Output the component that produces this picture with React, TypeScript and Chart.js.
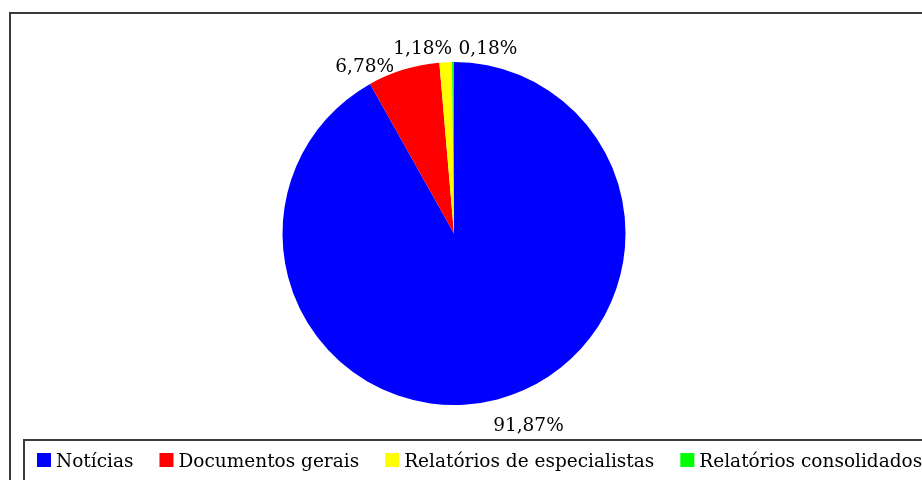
import React, { useEffect, useRef } from "react";
import { Chart, registerables } from "chart.js";

Chart.register(...registerables);

const categories = ["Notícias", "Documentos gerais", "Relatórios de especialistas", "Relatórios consolidados"];
const values = [91.87, 6.78, 1.18, 0.18];
const valueLabels = ["91,87%", "6,78%", "1,18%", "0,18%"];
const colors = ["#0000FF", "#FF0000", "#FFFF00", "#00FF00"];
const labelNudges = [
  [26, 7],
  [-33, 17],
  [-22, 7],
  [35, 7],
];

const FONT = '18.5px "DejaVu Serif"';

const framePlugin = {
  id: "frame",
  beforeDraw(chart: any) {
    const ctx = chart.ctx;
    ctx.save();
    ctx.fillStyle = "#ffffff";
    ctx.fillRect(0, 0, chart.width, chart.height);
    ctx.strokeStyle = "#3a3a3a";
    ctx.lineWidth = 2;
    ctx.strokeRect(10, 13, chart.width + 20, chart.height + 20);
    ctx.restore();
  },
  afterDraw(chart: any) {
    const ctx = chart.ctx;
    const meta = chart.getDatasetMeta(0);
    ctx.save();
    ctx.font = FONT;
    ctx.fillStyle = "#000000";
    ctx.textAlign = "center";
    ctx.textBaseline = "middle";
    meta.data.forEach((arc: any, i: number) => {
      const p = arc.getProps(["x", "y", "startAngle", "endAngle", "outerRadius"], true);
      const mid = (p.startAngle + p.endAngle) / 2;
      const R = p.outerRadius + 20;
      const x = p.x + Math.cos(mid) * R + labelNudges[i][0];
      const y = p.y + Math.sin(mid) * R + labelNudges[i][1];
      ctx.fillText(valueLabels[i], x, y);
    });

    // legend box
    ctx.strokeStyle = "#3a3a3a";
    ctx.lineWidth = 2;
    ctx.strokeRect(24, 440, chart.width + 20, 60);
    let x = 37;
    const sq = 14;
    const top = 453;
    ctx.textAlign = "left";
    ctx.textBaseline = "alphabetic";
    categories.forEach((c, i) => {
      ctx.fillStyle = colors[i];
      ctx.fillRect(x, top, sq, sq);
      x += sq + 5;
      ctx.fillStyle = "#000000";
      ctx.fillText(c, x, top + sq);
      x += ctx.measureText(c).width + 26;
    });
    ctx.restore();
  },
};

export default function App() {
  const ref = useRef<HTMLCanvasElement | null>(null);
  useEffect(() => {
    document.body.style.margin = "0";
    const chart = new Chart(ref.current as HTMLCanvasElement, {
      type: "pie",
      data: {
        labels: categories,
        datasets: [
          {
            data: values,
            backgroundColor: colors,
            borderWidth: 0,
          },
        ],
      },
      options: {
        animation: false,
        responsive: false,
        maintainAspectRatio: false,
        layout: { padding: { top: 62, bottom: 75, left: 0, right: 14 } },
        plugins: {
          legend: { display: false },
          tooltip: { enabled: false },
        },
      },
      plugins: [framePlugin],
    });
    return () => chart.destroy();
  }, []);
  return (
    <div style={{ width: 922, height: 480 }}>
      <canvas ref={ref} width={922} height={480} style={{ display: "block" }} />
    </div>
  );
}
